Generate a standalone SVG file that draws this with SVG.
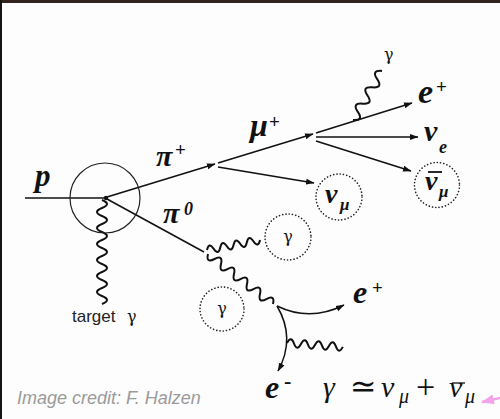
<svg xmlns="http://www.w3.org/2000/svg" width="500" height="419" viewBox="0 0 500 419">
<defs>
<marker id="ah" markerUnits="userSpaceOnUse" markerWidth="9" markerHeight="7" refX="8" refY="3.5" orient="auto"><path d="M0,0.5 L8.5,3.5 L0,6.5 z" fill="#111"/></marker>
<marker id="pk" markerUnits="userSpaceOnUse" markerWidth="14" markerHeight="10" refX="12" refY="5" orient="auto"><path d="M0,0 L13,5 L0,10 z" fill="#f2a3ec"/></marker>
<style>
.ln{fill:none;stroke:#111;stroke-width:1.5}
.wv{fill:none;stroke:#111;stroke-width:2;stroke-linejoin:round}
.dc{fill:none;stroke:#222;stroke-width:1.6;stroke-dasharray:0.1 3.2;stroke-linecap:round}
.lb{font-family:"Liberation Serif","DejaVu Serif",serif;font-weight:bold;font-style:italic;fill:#111}
.sp{font-weight:bold;font-style:normal}
.g{font-family:"DejaVu Serif","Liberation Serif",serif;fill:#111;font-size:16px}
.eq{font-family:"Liberation Serif","DejaVu Serif",serif;fill:#111}
</style>
</defs>
<rect width="500" height="419" fill="#fdfdfd"/>
<rect width="500" height="3" fill="#33231f"/>
<rect width="2" height="419" fill="#141414"/>

<g id="connectors">
<path class="ln" d="M25,198 L104,198"/>
<path class="ln" d="M107,197 L215,164" marker-end="url(#ah)"/>
<path class="ln" d="M218,163 L313,134" marker-end="url(#ah)"/>
<path class="ln" d="M218,167 L314,183" marker-end="url(#ah)"/>
<path class="ln" d="M316,133 L412,103" marker-end="url(#ah)"/>
<path class="ln" d="M316,137 L418,137" marker-end="url(#ah)"/>
<path class="ln" d="M316,141 L411,171" marker-end="url(#ah)"/>
<path class="ln" d="M107,199 L204,252"/>
<path class="ln" d="M277,306 Q310,322 344,305" marker-end="url(#ah)"/>
<path class="ln" d="M277,306 Q296,338 278,371" marker-end="url(#ah)"/>
<path class="wv" transform="translate(102,200) rotate(90)" d="M0,0 q4,-10 8,0 t8,0 t8,0 t8,0 t8,0 t8,0 t8,0 t8,0 t8,0 t8,0 t8,0 t8,0 t8,0"/>
<path class="wv" transform="translate(207,250) rotate(-10.7)" d="M0,0 q3.4,-8 6.75,0 t6.75,0 t6.75,0 t6.75,0 t6.75,0 t6.75,0 t6.75,0 t6.75,0"/>
<path class="wv" transform="translate(208,254) rotate(37.6)" d="M0,0 q4.1,9 8.2,0 t8.2,0 t8.2,0 t8.2,0 t8.2,0 t8.2,0 t8.2,0 t8.2,0 t8.2,0 t8.2,0"/>
<path class="wv" transform="translate(287,343) rotate(4)" d="M0,0 q3.5,-8 7,0 t7,0 t7,0 t7,0 t7,0 t7,0 t7,0 t7,0"/>
<path class="wv" transform="translate(353,120) rotate(-59.4)" d="M0,0 q4.75,10 9.5,0 t9.5,0 t9.5,0 t9.5,0 t9.5,0 t9.5,0"/>
<path d="M500,398 L482,402" fill="none" stroke="#f2a3ec" stroke-width="2.5" marker-end="url(#pk)"/>
</g>

<g id="target">
<circle cx="105" cy="198" r="35" fill="none" stroke="#222" stroke-width="1.2"/>
<circle cx="106" cy="198" r="2.2" fill="#111"/>
</g>

<g id="p"><text class="lb" x="35" y="186" font-size="31">p</text></g>
<g id="piplus"><text class="lb" x="156" y="166" font-size="30">π<tspan class="sp" x="175" y="156" font-size="19">+</tspan></text></g>
<g id="pizero"><text class="lb" x="163" y="223" font-size="30">π<tspan x="184" y="215" font-size="18">0</tspan></text></g>
<g id="muplus"><text class="lb" x="250" y="136" font-size="32">μ<tspan class="sp" x="269" y="128" font-size="19">+</tspan></text></g>
<g id="eplus1"><text class="lb" x="418" y="103" font-size="34">e<tspan class="sp" x="436" y="93" font-size="19">+</tspan></text></g>
<g id="nue"><text class="lb" x="424" y="141" font-size="30">ν<tspan x="439" y="153" font-size="18">e</tspan></text></g>
<g id="numu">
<circle class="dc" cx="339" cy="197" r="23"/>
<text class="lb" x="325" y="203" font-size="28">ν<tspan x="340" y="210" font-size="17">μ</tspan></text>
</g>
<g id="nubarmu">
<circle class="dc" cx="437" cy="185" r="22.5"/>
<text class="lb" x="425" y="190" font-size="28">ν<tspan x="439" y="197" font-size="17">μ</tspan></text>
<path d="M428,172 L442,172" stroke="#111" stroke-width="1.8"/>
</g>
<g id="gamma-top"><text class="g" x="384" y="60" font-size="15">γ</text></g>
<g id="gamma1"><circle class="dc" cx="288" cy="237" r="23"/><text class="g" x="288" y="242" text-anchor="middle">γ</text></g>
<g id="gamma2"><circle class="dc" cx="222" cy="309" r="22"/><text class="g" x="222" y="314" text-anchor="middle">γ</text></g>
<g id="eplus2"><text class="lb" x="353" y="303" font-size="32">e<tspan class="sp" x="372" y="294" font-size="19">+</tspan></text></g>
<g id="eminus"><text class="lb" x="265" y="398" font-size="32">e<tspan class="sp" x="284" y="388" font-size="22">-</tspan></text></g>
<g id="target-label"><text x="72" y="322" font-family="'Liberation Sans',Arial,sans-serif" font-size="17" fill="#222">target <tspan class="g" x="127" font-size="17">γ</tspan></text></g>
<g id="credit"><text x="17" y="404" font-family="'Liberation Sans',Arial,sans-serif" font-style="italic" font-size="18" fill="#9a9a9a">Image credit: F. Halzen</text></g>
<g id="equation">
<text class="eq" x="323" y="397" font-size="30" font-style="italic">γ<tspan x="350" font-style="normal" font-size="32">≃</tspan><tspan x="381">ν</tspan><tspan x="399" y="403" font-size="20">μ</tspan><tspan x="416" y="398" font-style="normal" font-size="34">+</tspan><tspan x="449" y="397">ν</tspan><tspan x="465" y="403" font-size="20">μ</tspan></text>
<path d="M452,383 L465,383" stroke="#111" stroke-width="1.3"/>
</g>
</svg>
